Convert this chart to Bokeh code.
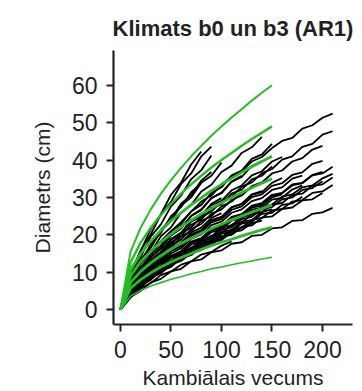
from bokeh.plotting import figure
from bokeh.embed import file_html
from bokeh.resources import INLINE
from bokeh.models import FixedTicker, Range1d

# ---- data: tree diameters (cm) measured every 10 years of cambial age ----
AGE_STEP = 10
tree01 = [0, 9.2, 15.9, 20.1, 25.4, 28.8, 33.6, 36.4, 41.0, 43.6]
tree02 = [0, 9.1, 14.0, 19.5, 22.8, 27.6, 30.5, 34.9, 37.3, 41.2]
tree03 = [0, 7.5, 13.0, 16.5, 21.1, 23.6, 27.8, 30.0, 33.9, 35.8, 39.3]
tree04 = [0, 8.2, 12.6, 17.5, 20.5, 25.0, 27.4, 31.4, 33.8]
tree05 = [0, 7.0, 12.2, 15.3, 19.6, 22.0, 25.9, 28.0, 31.6, 33.4, 36.8, 38.5, 41.9, 43.4, 46.2]
tree06 = [0, 6.9, 10.4, 14.7, 17.1, 20.9, 22.8, 26.3, 28.0, 31.2, 32.7, 35.9, 37.2, 40.3, 41.5, 44.3]
tree07 = [0, 6.2, 9.3, 13.1, 15.2, 18.6, 20.3, 23.5, 24.9, 27.9, 29.1, 31.9, 33.2, 35.9, 37.0, 39.6, 40.8]
tree08 = [0, 6.6, 10.0, 14.0, 16.4, 19.9, 21.8, 25.1, 26.8, 29.8, 31.3, 34.2, 35.8]
tree09 = [0, 5.2, 9.1, 11.4, 14.8, 16.5, 19.5, 20.9, 23.7, 25.0, 27.6, 28.9, 31.2]
tree10 = [0, 5.4, 8.1, 11.5, 13.4, 16.3, 17.9, 20.6, 21.9, 24.5, 25.8]
tree11 = [0, 6.5, 11.2, 14.6, 18.3, 21.0, 23.4, 26.2, 28.9, 30.5, 33.4, 35.6, 36.9, 39.6, 40.8,
          43.2, 45.1, 45.9, 48.4, 49.3, 51.3, 52.4]
tree12 = [0, 5.5, 9.7, 12.0, 15.4, 17.3, 20.5, 21.9, 24.8, 26.2, 29.0, 30.2, 32.9, 34.0, 36.5,
          37.6, 40.1, 41.0, 43.5, 44.3, 46.8, 47.7]
tree13 = [0, 5.6, 8.5, 12.0, 14.0, 17.1, 18.7, 21.5, 22.9, 25.6, 26.8, 29.3, 30.5, 33.0, 34.0,
          36.4, 37.2, 39.6, 40.5, 42.8, 43.8]
tree14 = [0, 4.8, 7.1, 10.0, 11.6, 14.3, 15.5, 18.0, 19.0, 21.4, 22.3, 24.6, 25.4, 27.6, 28.3,
          30.4, 31.1, 33.2, 33.8, 35.9, 36.4, 38.2]
tree15 = [0, 4.1, 7.3, 9.0, 11.7, 12.9, 15.4, 16.4, 18.7, 19.5, 21.9, 22.5, 24.8, 25.4, 27.5,
          28.1, 30.2, 30.8, 32.7, 33.2, 35.1, 36.3]
tree16 = [0, 4.9, 7.2, 10.1, 11.7, 14.4, 15.6, 18.2, 19.1, 21.6, 22.4, 24.8, 25.5, 27.8, 28.5,
          30.7, 31.2, 33.5, 33.9, 36.0, 36.8]
tree17 = [0, 4.0, 7.1, 8.8, 11.4, 12.6, 15.1, 16.0, 18.3, 19.0, 21.3, 22.0, 24.2, 24.8, 26.9,
          27.4, 29.5, 30.0, 32.0, 32.5, 34.3]
tree18 = [0, 4.2, 6.2, 8.7, 10.0, 12.4, 13.4, 15.7, 16.5, 18.6, 19.2, 21.4, 21.9, 24.0, 24.5,
          26.5, 26.9, 28.9, 29.3, 31.2, 31.6, 33.3]
tree19 = [0, 3.6, 6.5, 8.0, 10.4, 11.4, 13.8, 14.6, 16.8, 17.3, 19.5, 20.0, 22.1, 22.5, 24.6,
          24.9, 26.9, 27.3, 29.2, 29.5, 31.2]
tree20 = [0, 3.4, 5.0, 7.2, 8.2, 10.2, 10.9, 12.9, 13.4, 15.3, 15.8, 17.6, 18.0, 19.7, 20.0,
          21.7, 22.0, 23.7, 23.9, 25.6, 26.0, 27.2]
tree21 = [0, 5.0, 7.5, 10.6, 12.3, 15.0, 16.4, 18.9, 20.1, 22.6, 23.5, 25.9, 26.8, 29.0, 29.8,
          32.0, 32.7, 35.0, 35.8]
tree22 = [0, 3.8, 6.8, 8.4, 10.9, 11.9, 14.3, 15.1, 17.4, 18.1, 20.3, 20.8, 23.0, 23.5, 25.6,
          25.9, 28.0, 28.4, 30.2]
tree23 = [0, 4.7, 7.0, 9.9, 11.4, 14.1, 15.2, 17.8, 18.7, 21.1, 21.9, 24.2, 24.9, 27.3, 27.8,
          30.0, 30.8]
tree24 = [0, 3.9, 6.9, 8.5, 11.0, 12.2, 14.6, 15.4, 17.8, 18.5, 20.7, 21.3, 23.5, 23.9, 26.1, 26.8]
tree25 = [0, 4.0, 5.9, 8.5, 9.7, 12.0, 13.0, 15.1, 15.9, 18.0, 18.6, 20.7, 21.2, 23.1, 23.8]
tree26 = [0, 4.1, 6.1, 8.6, 9.9, 12.3, 13.2, 15.5, 16.2, 18.4, 19.0, 21.1, 21.8]
tree27 = [0, 3.8, 6.8, 8.4, 10.8, 12.0, 14.3, 15.3, 17.4, 18.3, 20.1]
tree28 = [0, 5.9, 9.0, 12.7, 14.7, 18.0, 19.6, 22.7, 24.1, 27.0, 28.2, 31.0, 32.1, 34.8, 35.8, 38.3]
tree29 = [0, 5.2, 7.8, 11.0, 12.7, 15.6, 16.9, 19.6, 20.8, 23.3, 24.2, 26.7, 27.6, 30.1, 30.8,
          33.1, 33.8, 36.0, 36.7, 39.0, 39.8]
tree30 = [0, 5.3, 8.0, 11.3, 13.0, 16.0, 17.3, 20.1, 21.2, 23.9, 24.8, 27.4, 28.3, 30.8, 31.7]
tree31 = [0, 10.1, 15.6, 21.5, 25.5, 30.7, 34.0, 38.8, 42.3]
tree32 = [0, 7.7, 13.3, 16.8, 21.4, 24.1, 28.3, 30.6, 34.5, 36.8]
tree33 = [0, 4.4, 6.6, 9.3, 10.7, 13.1, 14.3, 16.6, 17.5, 19.8, 20.5, 22.7, 23.3, 25.5, 26.0,
          28.1, 28.5, 30.6, 31.0, 33.1, 33.5, 35.3]
tree34 = [0, 3.2, 5.7, 7.1, 9.2, 10.2, 12.0, 12.9, 14.7, 15.4, 17.1, 18.2]
tree35 = [0, 3.6, 6.4, 8.0, 10.4, 11.5, 13.7, 14.6, 16.8, 17.4, 19.5, 20.1, 22.0, 23.2]
tree36 = [0, 5.3, 7.9, 11.2, 13.0, 15.9, 17.2, 20.0, 21.1, 23.8, 24.7, 27.3, 28.2, 30.7, 31.4,
          33.9, 35.2]
tree37 = [0, 4.6, 6.9, 9.7, 11.2, 13.8, 14.9, 17.4, 18.3, 20.7, 21.4, 23.8, 24.4, 26.7, 27.2,
          29.4, 29.9, 32.1, 33.2]
tree38 = [0, 6.3, 9.4, 13.3, 15.5, 18.9, 20.6, 23.8, 25.2, 28.3, 29.8]
tree39 = [0, 6.6, 9.9, 14.0, 16.3, 19.8, 21.7, 25.0, 26.6, 29.8, 31.1, 34.2, 35.5, 38.4, 39.7]

trees = [tree01, tree02, tree03, tree04, tree05, tree06, tree07, tree08, tree09, tree10,
         tree11, tree12, tree13, tree14, tree15, tree16, tree17, tree18, tree19, tree20,
         tree21, tree22, tree23, tree24, tree25, tree26, tree27, tree28, tree29, tree30,
         tree31, tree32, tree33, tree34, tree35, tree36, tree37, tree38, tree39]

# ---- model curves (green), ages 0..150 every 10 years ----
green_age = [0, 10, 20, 30, 40, 50, 60, 70, 80, 90, 100, 110, 120, 130, 140, 150]
green1 = [0, 15.5, 21.9, 26.8, 31.0, 34.6, 37.9, 41.0, 43.8, 46.5, 49.0, 51.4, 53.6, 55.9, 58.0, 60.0]
green2 = [0, 12.6, 17.9, 21.9, 25.3, 28.3, 31.0, 33.5, 35.8, 38.0, 40.0, 41.9, 43.8, 45.6, 47.3, 49.0]
green3 = [0, 10.6, 15.0, 18.3, 21.2, 23.7, 25.9, 28.0, 29.9, 31.8, 33.5, 35.1, 36.7, 38.2, 39.6, 41.0]
green4 = [0, 9.0, 12.8, 15.6, 18.1, 20.2, 22.1, 23.9, 25.6, 27.1, 28.6, 30.0, 31.3, 32.6, 33.8, 35.0]
green5 = [0, 7.2, 10.2, 12.5, 14.4, 16.2, 17.7, 19.1, 20.4, 21.7, 22.8, 24.0, 25.0, 26.1, 27.0, 28.0]
green6 = [0, 5.7, 8.0, 9.8, 11.4, 12.7, 13.9, 15.0, 16.1, 17.1, 18.0, 18.8, 19.7, 20.5, 21.3, 22.0]
green7 = [0, 3.6, 5.1, 6.3, 7.2, 8.1, 8.8, 9.6, 10.2, 10.9, 11.4, 12.0, 12.5, 13.0, 13.5, 14.0]
greens = [green1, green2, green3, green4, green5, green6, green7]
green_widths = [2.0, 2.4, 2.8, 2.8, 2.8, 2.8, 1.6]

x_ticks = [0, 50, 100, 150, 200]
y_ticks = [0, 10, 20, 30, 40, 50, 60]

FONT = "Liberation Sans"

p = figure(width=362, height=391, output_backend="svg", toolbar_location=None,
           x_range=Range1d(-6.9, 229.7), y_range=Range1d(-4.0, 69.3),
           min_border_left=113, min_border_right=10, min_border_top=50, min_border_bottom=65,
           title="Klimats b0 un b3 (AR1)")

p.title.align = "center"
p.title.text_font = FONT
p.title.text_font_size = "22px"
p.title.text_font_style = "bold"
p.title.text_color = "#222222"
p.title.offset = 4
p.title.standoff = 19

p.outline_line_color = None
p.xgrid.visible = False
p.ygrid.visible = False
p.background_fill_color = "white"
p.border_fill_color = "white"

for d in trees:
    ages = [i * AGE_STEP for i in range(len(d))]
    p.line(ages, d, line_color="black", line_width=1.8)

for g, w in zip(greens, green_widths):
    p.line(green_age, g, line_color="#22bf22", line_width=w)

for ax in (p.xaxis[0], p.yaxis[0]):
    ax.axis_line_width = 2.2
    ax.axis_line_color = "#222222"
    ax.major_tick_line_color = "#222222"
    ax.major_tick_line_width = 2
    ax.major_tick_out = 7
    ax.major_tick_in = 0
    ax.minor_tick_line_color = None
    ax.major_label_text_font = FONT
    ax.major_label_text_font_size = "23px"
    ax.major_label_text_color = "#222222"
    ax.axis_label_text_font = FONT
    ax.axis_label_text_font_size = "21px"
    ax.axis_label_text_font_style = "normal"
    ax.axis_label_text_color = "#222222"

p.xaxis.ticker = FixedTicker(ticks=x_ticks)
p.yaxis.ticker = FixedTicker(ticks=y_ticks)
p.xaxis.axis_label = "Kambiālais vecums"
p.yaxis.axis_label = "Diametrs (cm)"
p.xaxis.major_label_standoff = 9
p.yaxis.major_label_standoff = 9
p.xaxis.axis_label_standoff = 5
p.yaxis.axis_label_standoff = 15

open("out.html", "w").write(file_html(p, INLINE))
